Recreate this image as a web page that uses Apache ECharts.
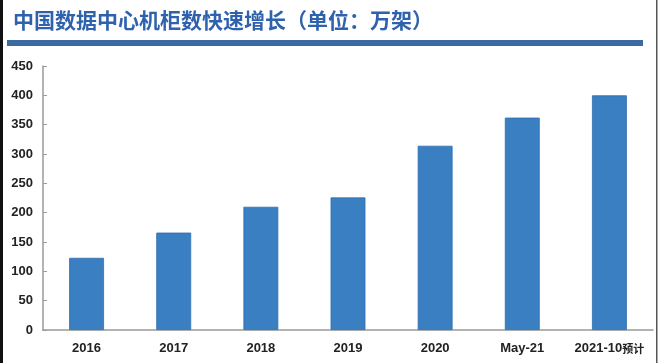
<!DOCTYPE html>
<html><head><meta charset="utf-8">
<script src="https://cdn.jsdelivr.net/npm/echarts@6/dist/echarts.min.js"></script>
<style>html,body{margin:0;padding:0;background:#fff}#c{width:660px;height:363px}</style>
</head><body><div id="c"></div>
<script>
var titleText = '中国数据中心机柜数快速增长（单位：万架）';
var categories = ['2016','2017','2018','2019','2020','May-21','2021-10预计'];
var values = [123, 166, 210, 226, 314, 362, 400];
var yTicks = {min: 0, max: 450, interval: 50};

var chart = echarts.init(document.getElementById('c'));
chart.setOption({
  animation: false,
  backgroundColor: '#fff',
  title: {
    text: titleText, left: 8, top: 5,
    textStyle: {fontFamily: 'Noto Sans CJK SC', fontSize: 21, fontWeight: 'bold', color: '#2f62ad'}
  },
  graphic: [
    {type: 'rect', shape: {x: 0, y: 0, width: 3, height: 363}, style: {fill: '#111'}},
    {type: 'rect', shape: {x: 656, y: 0, width: 1.5, height: 363}, style: {fill: '#555'}},
    {type: 'rect', shape: {x: 7, y: 40, width: 636, height: 6}, style: {fill: '#3a6aa3'}}
  ],
  grid: {left: 43, right: 7, top: 66, bottom: 33, containLabel: false},
  xAxis: {
    type: 'category', data: categories,
    axisLine: {lineStyle: {color: '#9a9a9a', width: 1.5}},
    axisTick: {show: false},
    axisLabel: {
      color: '#222', fontFamily: 'Liberation Sans', fontSize: 13, fontWeight: 'bold', margin: 12,
      interval: 0,
      formatter: function (v) { return v.replace('预计', '{s|预计}'); },
      rich: {s: {fontFamily: 'Noto Sans CJK SC', fontSize: 11, fontWeight: 'bold', color: '#222'}}
    }
  },
  yAxis: {
    type: 'value', min: yTicks.min, max: yTicks.max, interval: yTicks.interval,
    axisLine: {show: true, lineStyle: {color: '#9a9a9a', width: 1.5}},
    axisTick: {show: true, inside: true, length: 4, lineStyle: {color: '#9a9a9a'}},
    splitLine: {show: false},
    axisLabel: {color: '#222', fontFamily: 'Liberation Sans', fontSize: 13, fontWeight: 'bold', margin: 10}
  },
  series: [{
    type: 'bar', data: values, barWidth: '40%',
    itemStyle: {color: '#3a7fc2', borderColor: '#2f6fae', borderWidth: 0.8}
  }]
});
</script></body></html>
